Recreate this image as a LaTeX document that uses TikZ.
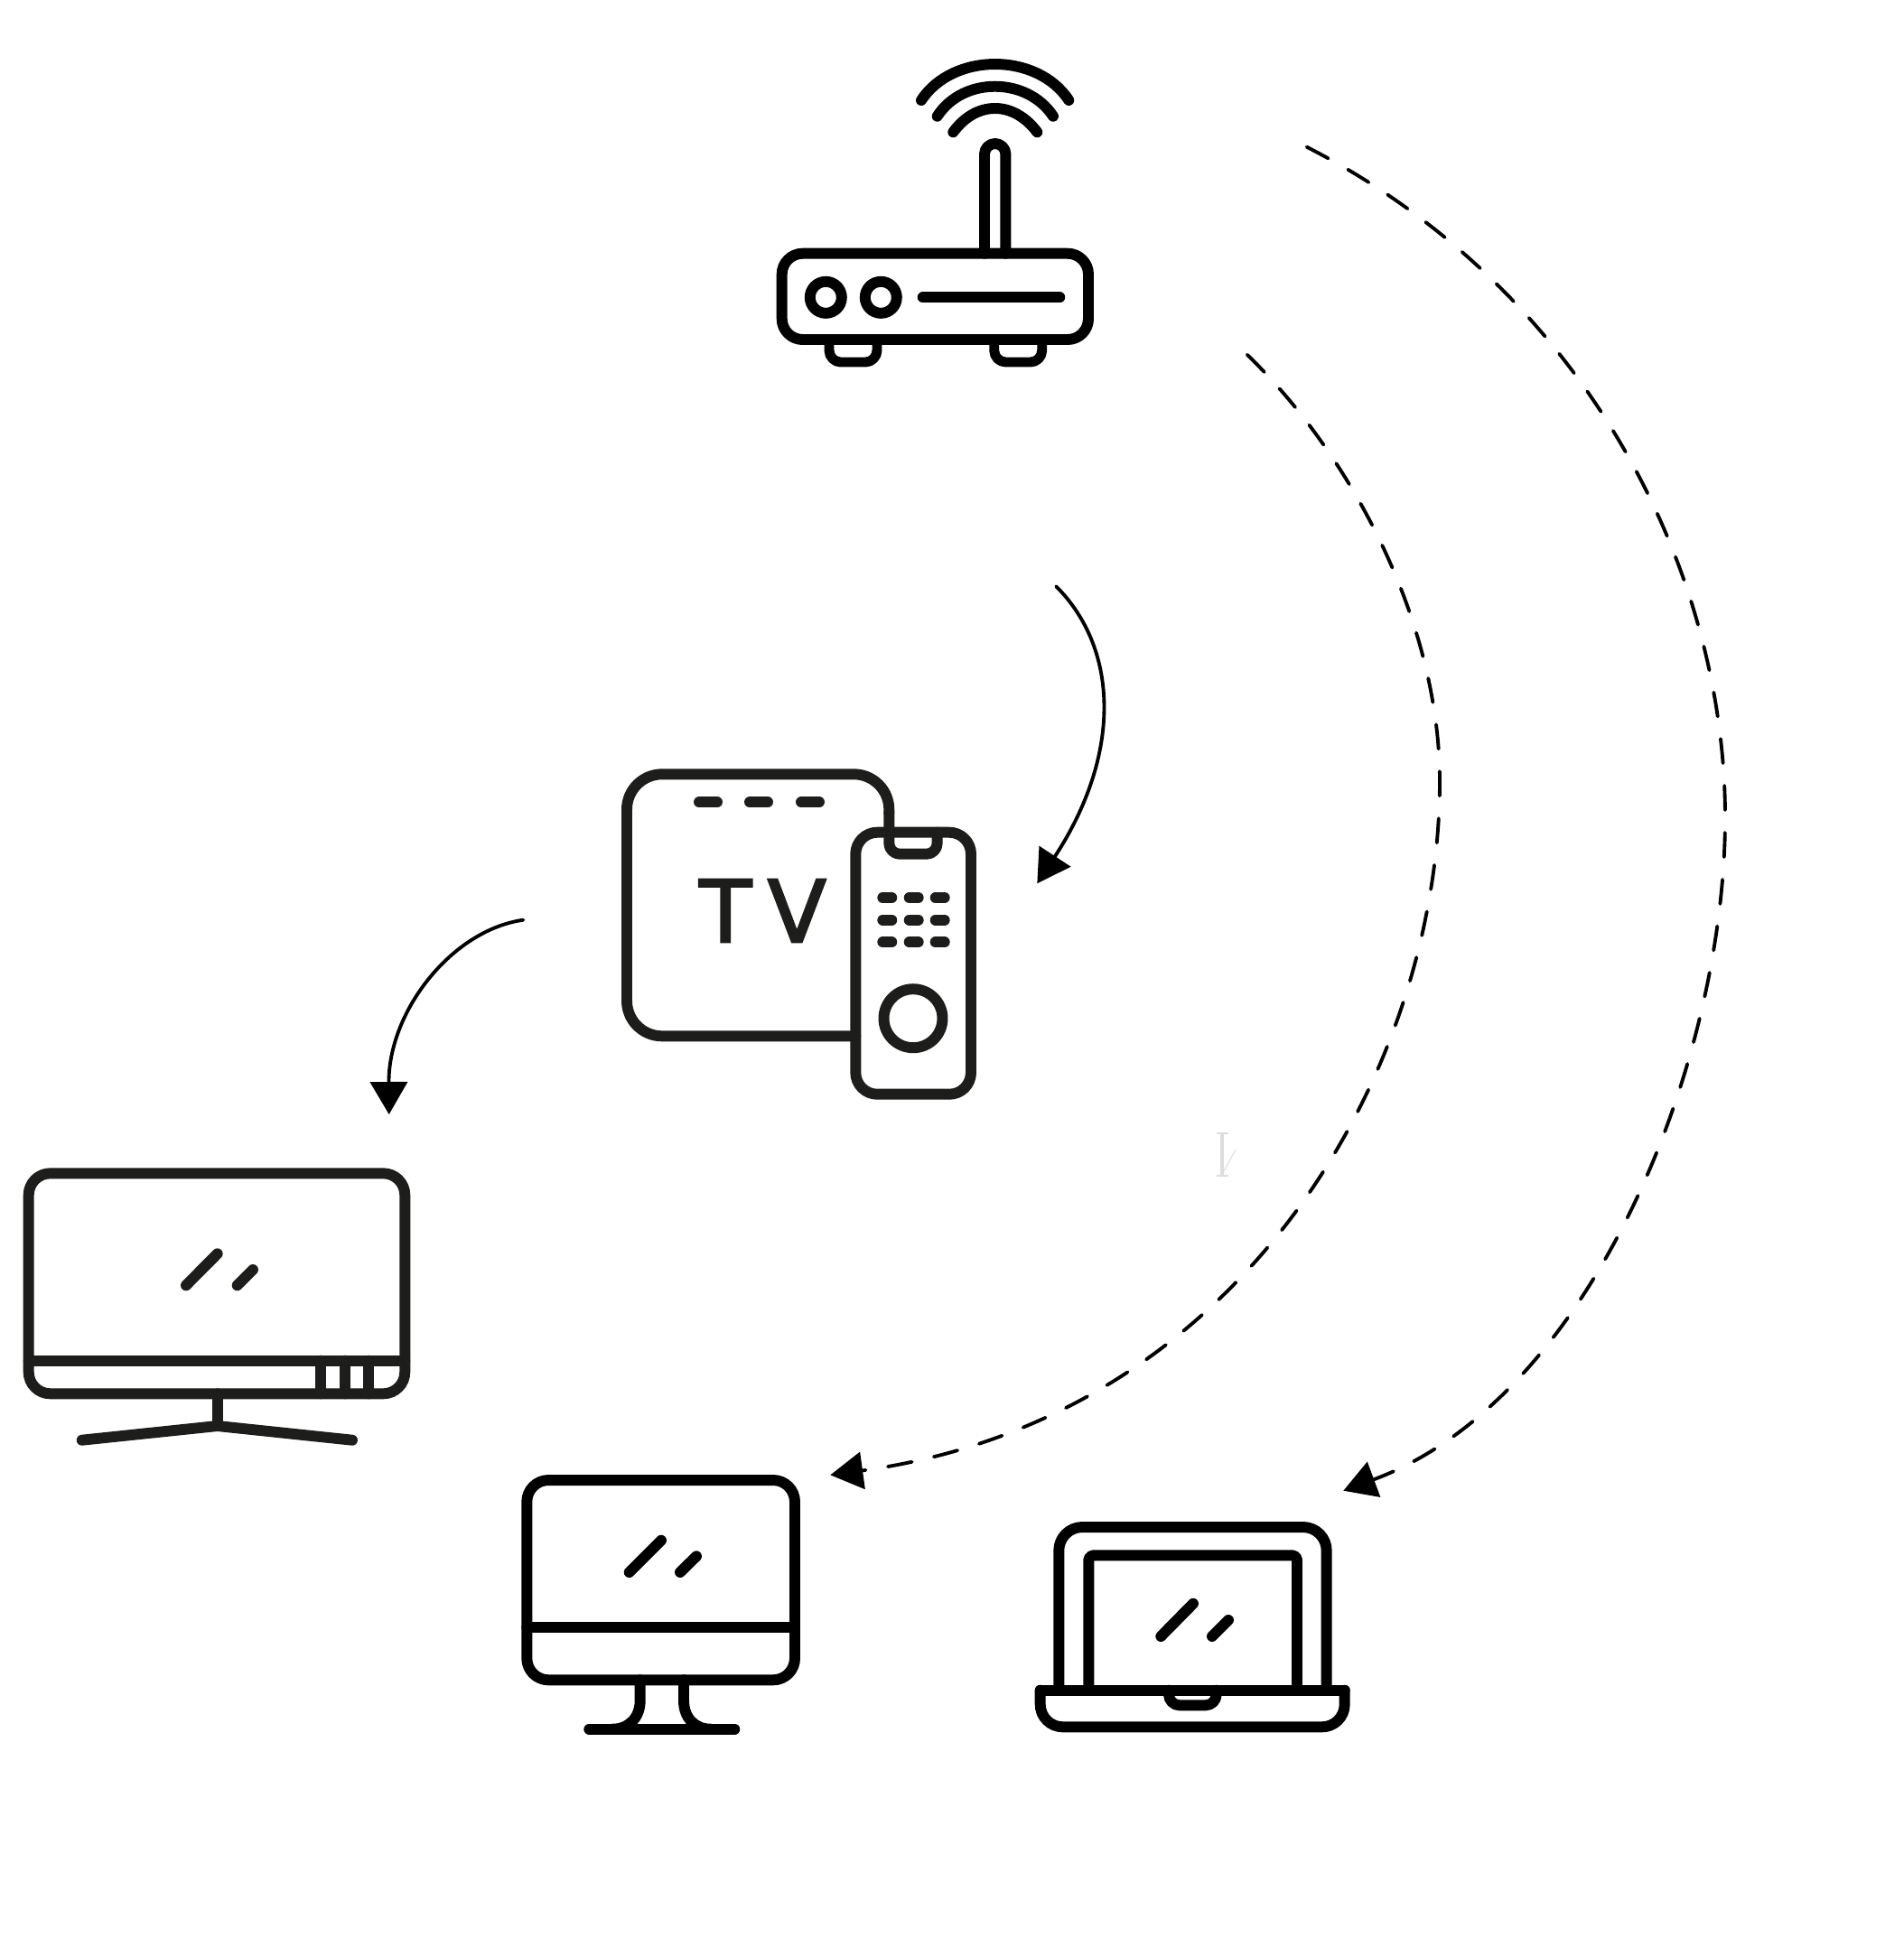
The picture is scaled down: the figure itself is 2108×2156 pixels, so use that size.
\documentclass[tikz,border=0pt]{standalone}
\usepackage{fontspec}
\usetikzlibrary{arrows.meta}
\newfontfamily\tvfont[FakeBold=2.5]{DejaVu Sans}
\definecolor{iconink}{HTML}{1D1D1B}
\definecolor{cursorgray}{HTML}{DDDDDD}
\tikzset{
  icon/.style={line width=3.4pt,line cap=round,line join=round},
  softicon/.style={icon,draw=iconink},
  link/.style={line width=1.1pt,line cap=round,-{Triangle[length=0.36cm,width=0.41cm]}},
  dashlink/.style={link,dash pattern=on 0.27cm off 0.25cm}
}
\begin{document}
\begin{tikzpicture}[x=0.01cm,y=-0.01cm]
      \useasboundingbox (0,0) rectangle (2108,2156);
      \coordinate (routerNear) at (1380.7,392.7);
      \coordinate (routerFar) at (1446.7,162.7);
      \coordinate (routerBox) at (1169.3,649.3);
      \coordinate (boxIn) at (1148.3,978.3);
      \coordinate (boxOut) at (579.3,1018.7);
      \coordinate (wideIn) at (430.7,1234);
      \coordinate (imacIn) at (919.3,1633.3);
      \coordinate (laptopIn) at (1487.3,1650.7);
      \coordinate (nearTurn) at (1594,865);
      \coordinate (farTurn) at (1910,905);
      % router
      \begin{scope}[icon]
        \draw[rounded corners=0.23cm] (865.7,280.7) rectangle (1205,376);
        \draw (914.3,329.3) circle (17.5);
        \draw (975.3,329.3) circle (17.5);
        \draw (1021.7,329.3) -- (1173.3,329.3);
        \draw (1090,280.7) -- (1090,170.7) arc (180:360:11.7) -- (1113.4,280.7);
        \draw[line width=3.1pt,rounded corners=0.13cm] (918,376) -- (918,401) -- (971,401) -- (971,376);
        \draw[line width=3.1pt,rounded corners=0.13cm] (1100.7,376) -- (1100.7,401) -- (1153.7,401) -- (1153.7,376);
        \draw (1020,111) .. controls (1055,57.7) and (1148.4,57.7) .. (1183.3,111);
        \draw (1037.7,128.7) .. controls (1066,84.7) and (1137,84.7) .. (1166,128.7);
        \draw (1055.3,146.3) .. controls (1081,111.2) and (1122,111.2) .. (1148.3,146.3);
      \end{scope}
      % tv box and remote
      \begin{scope}[softicon]
        \draw[rounded corners=0.39cm] (947.3,1147.3) -- (694,1147.3) -- (694,857.3) -- (984.3,857.3) -- (984.3,900);
        \draw[rounded corners=0.12cm] (984.3,900) -- (984.3,945.7) -- (1037.7,945.7) -- (1037.7,921.7);
        \draw[rounded corners=0.24cm] (947.3,921.7) rectangle (1075,1211.7);
        \draw (1011,1127.7) circle (32.5);
        \draw (774,888.3) -- (794,888.3);
        \draw (830,888.3) -- (850,888.3);
        \draw (887,888.3) -- (907,888.3);
        \foreach \rowy in {994,1018.7,1043.3}
          \foreach \colx in {982.3,1011.7,1040.7}
            \draw (\colx-5,\rowy) -- (\colx+5,\rowy);
      \end{scope}
      \node[text=iconink,inner sep=0pt] (tvLabel) at (844.5,1008.5) {\tvfont\fontsize{27}{27}\selectfont T\kern5pt V};
      % wide monitor
      \begin{scope}[softicon]
        \draw[rounded corners=0.24cm] (31.7,1299.3) rectangle (448.3,1543.3);
        \draw (31.7,1506.7) -- (448.3,1506.7);
        \draw (355,1506.7) -- (355,1543.3);
        \draw (381.7,1506.7) -- (381.7,1543.3);
        \draw (408.3,1506.7) -- (408.3,1543.3);
        \draw (240.7,1543.3) -- (240.7,1579);
        \draw (90.7,1594.7) -- (240.7,1579) -- (390,1594.7);
        \draw (206,1423.3) -- (240.7,1388.3);
        \draw (262.7,1423.3) -- (280,1406);
      \end{scope}
      % desktop
      \begin{scope}[icon]
        \draw[rounded corners=0.24cm] (583.3,1639) rectangle (880,1860.3);
        \draw (583.3,1801.7) -- (880,1801.7);
        \draw (696.7,1741) -- (732,1705.7);
        \draw (753,1741) -- (771,1723.3);
        \draw (708.7,1860.3) -- (708.7,1883) .. controls (708.7,1903) and (695,1914.7) .. (678.3,1914.7);
        \draw (757,1860.3) -- (757,1883) .. controls (757,1903) and (770,1914.7) .. (786.7,1914.7);
        \draw (652.3,1914.7) -- (813.3,1914.7);
      \end{scope}
      % laptop
      \begin{scope}[icon]
        \draw[rounded corners=0.26cm] (1172.3,1871.7) -- (1172.3,1691) -- (1468.7,1691) -- (1468.7,1871.7);
        \draw[rounded corners=0.05cm] (1205.3,1871.7) -- (1205.3,1722.3) -- (1436,1722.3) -- (1436,1871.7);
        \draw (1151.7,1871.7) -- (1488.7,1871.7);
        \draw[rounded corners=0.25cm] (1151.7,1871.7) -- (1151.7,1912.3) -- (1488.7,1912.3) -- (1488.7,1871.7);
        \draw[rounded corners=0.12cm] (1294,1871.7) -- (1294,1888.3) -- (1346.7,1888.3) -- (1346.7,1871.7);
        \draw (1285.3,1812) -- (1321,1775.7);
        \draw (1342,1812) -- (1360,1794);
      \end{scope}
      % links
      \draw[link] (routerBox) .. controls (1240,720) and (1241,837) .. (boxIn);
      \draw[link] (boxOut) .. controls (500,1030) and (430,1120) .. (wideIn);
      \draw[dashlink] (routerNear) .. controls (1497,505) and (1594,690) .. (nearTurn)
        .. controls (1594,1180) and (1380,1570) .. (imacIn);
      \draw[dashlink] (routerFar) .. controls (1745,315) and (1910,620) .. (farTurn)
        .. controls (1910,1180) and (1760,1550) .. (laptopIn);
      % cursor
      \draw[cursorgray,line width=1.1pt] (1353.3,1255) -- (1353.3,1301.7);
      \draw[cursorgray,line width=0.6pt] (1346.5,1255) -- (1360,1255);
      \draw[cursorgray,line width=0.6pt] (1346.5,1301.7) -- (1360,1301.7);
      \draw[cursorgray,line width=0.3pt] (1368,1273) -- (1355,1297);
    \end{tikzpicture}
\end{document}
